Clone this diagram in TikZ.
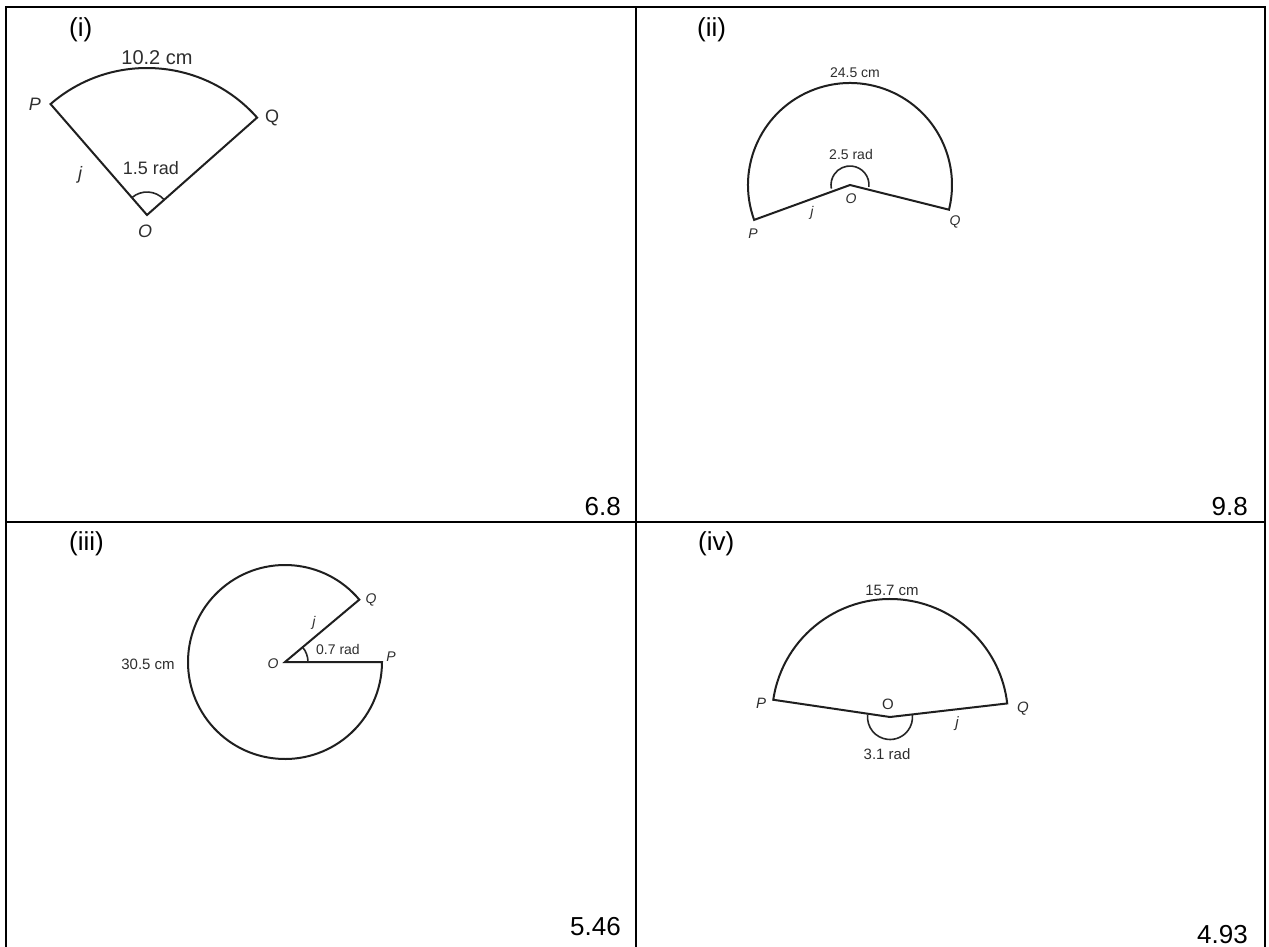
\documentclass[tikz,border=0pt]{standalone}
\usepackage{fontspec}
\setmainfont{Liberation Sans}
\usetikzlibrary{calc}
\begin{document}
\begin{tikzpicture}[x=1pt,y=1pt,
  tableline/.style={line width=2.5pt, black},
  sector/.style={line width=2pt, draw=black!88, line join=miter},
  angmark/.style={line width=1.6pt, draw=black!85},
  celltag/.style={inner sep=0pt, font=\fontsize{26}{30}\selectfont},
  cellnum/.style={inner sep=0pt, font=\fontsize{26}{30}\selectfont},
  lbl/.style={inner sep=0pt, text=black!82},
  pt/.style={inner sep=0pt, text=black!82, font=\itshape}
]
\useasboundingbox (0,0) rectangle (1269,-947);
\fill[white] (0,0) rectangle (1269,-947);

% table
\coordinate (tl) at (6,-7);
\coordinate (tr) at (1265,-7);
\coordinate (tm) at (636,-7);
\coordinate (bl) at (6,-947);
\coordinate (br) at (1265,-947);
\coordinate (bm) at (636,-947);
\coordinate (ml) at (6,-522);
\coordinate (mr) at (1265,-522);
\draw[tableline] (bl) -- (tl) -- (tr) -- (br);
\draw[tableline] (tm) -- (bm);
\draw[tableline] (ml) -- (mr);

% cell tags and numbers
\node[celltag, anchor=base west] (tag1) at (69,-37) {(i)};
\node[celltag, anchor=base west] (tag2) at (697,-37) {(ii)};
\node[celltag, anchor=base west] (tag3) at (69,-550) {(iii)};
\node[celltag, anchor=base west] (tag4) at (698,-550) {(iv)};
\node[cellnum, anchor=base east] (num1) at (621,-515) {6.8};
\node[cellnum, anchor=base east] (num2) at (1248,-515) {9.8};
\node[cellnum, anchor=base east] (num3) at (621,-935) {5.46};
\node[cellnum, anchor=base east] (num4) at (1248,-943) {4.93};

% ---------- (i) ----------
\coordinate (O1) at (147,-215);
\draw[sector] (O1) -- ++(131:147) arc[start angle=131, end angle=41.5, radius=147] -- cycle;
\draw[angmark] ($(O1)+(41.5:23)$) arc[start angle=41.5, end angle=131, radius=23];
\node[lbl, font=\fontsize{20}{24}\selectfont] (arc1) at (157,-58) {10.2 cm};
\node[lbl, font=\fontsize{18}{22}\selectfont] (ang1) at (151,-168) {1.5 rad};
\node[pt, font=\fontsize{18}{22}\selectfont\itshape] (Pl1) at (35,-104) {P};
\node[pt, font=\fontsize{18}{22}\selectfont] (Ql1) at (272,-118) {Q};
\node[pt, font=\fontsize{18}{22}\selectfont\itshape] (Ol1) at (145,-231) {O};
\node[pt, font=\fontsize{18}{22}\selectfont\itshape] (jl1) at (80,-175) {j};

% ---------- (ii) ----------
\coordinate (O2) at (850,-185);
\draw[sector] (O2) -- ++(200:102) arc[start angle=200, end angle=-14, radius=102] -- cycle;
\draw[angmark] ($(O2)+(-6:19)$) arc[start angle=-6, end angle=191, radius=19];
\node[lbl, font=\fontsize{14}{17}\selectfont] (arc2) at (855,-73) {24.5 cm};
\node[lbl, font=\fontsize{14}{17}\selectfont] (ang2) at (851,-154) {2.5 rad};
\node[pt, font=\fontsize{14}{17}\selectfont\itshape] (Ol2) at (851,-199) {O};
\node[pt, font=\fontsize{14}{17}\selectfont\itshape] (jl2) at (812,-213) {j};
\node[pt, font=\fontsize{14}{17}\selectfont\itshape] (Pl2) at (753,-234) {P};
\node[pt, font=\fontsize{14}{17}\selectfont\itshape] (Ql2) at (955,-222) {Q};

% ---------- (iii) ----------
\coordinate (O3) at (285,-662);
\draw[sector] (O3) -- ++(40:97) arc[start angle=40, end angle=360, radius=97] -- cycle;
\draw[angmark] ($(O3)+(0:23)$) arc[start angle=0, end angle=40, radius=23];
\node[lbl, font=\fontsize{15}{18}\selectfont] (arc3) at (148,-664) {30.5 cm};
\node[lbl, font=\fontsize{14}{17}\selectfont] (ang3) at (338,-649) {0.7 rad};
\node[pt, font=\fontsize{14}{17}\selectfont\itshape] (Ol3) at (273,-664) {O};
\node[pt, font=\fontsize{14}{17}\selectfont\itshape] (Pl3) at (391,-657) {P};
\node[pt, font=\fontsize{14}{17}\selectfont\itshape] (Ql3) at (371,-600) {Q};
\node[pt, font=\fontsize{14}{17}\selectfont\itshape] (jl3) at (314,-623) {j};

% ---------- (iv) ----------
\coordinate (O4) at (890,-717);
\draw[sector] (O4) -- ++(171.6:118) arc[start angle=171.6, end angle=6.6, radius=118] -- cycle;
\draw[angmark] ($(O4)+(174:22.5)$) arc[start angle=174, end angle=366, radius=22.5];
\node[lbl, font=\fontsize{15}{18}\selectfont] (arc4) at (892,-590) {15.7 cm};
\node[lbl, font=\fontsize{15}{18}\selectfont] (ang4) at (887,-754) {3.1 rad};
\node[pt, font=\fontsize{15}{18}\selectfont\itshape] (Pl4) at (761,-703) {P};
\node[pt, font=\fontsize{15}{18}\selectfont] (Ol4) at (888,-704) {O};
\node[pt, font=\fontsize{15}{18}\selectfont\itshape] (Ql4) at (1023,-709) {Q};
\node[pt, font=\fontsize{15}{18}\selectfont\itshape] (jl4) at (957,-724) {j};
\end{tikzpicture}
\end{document}
